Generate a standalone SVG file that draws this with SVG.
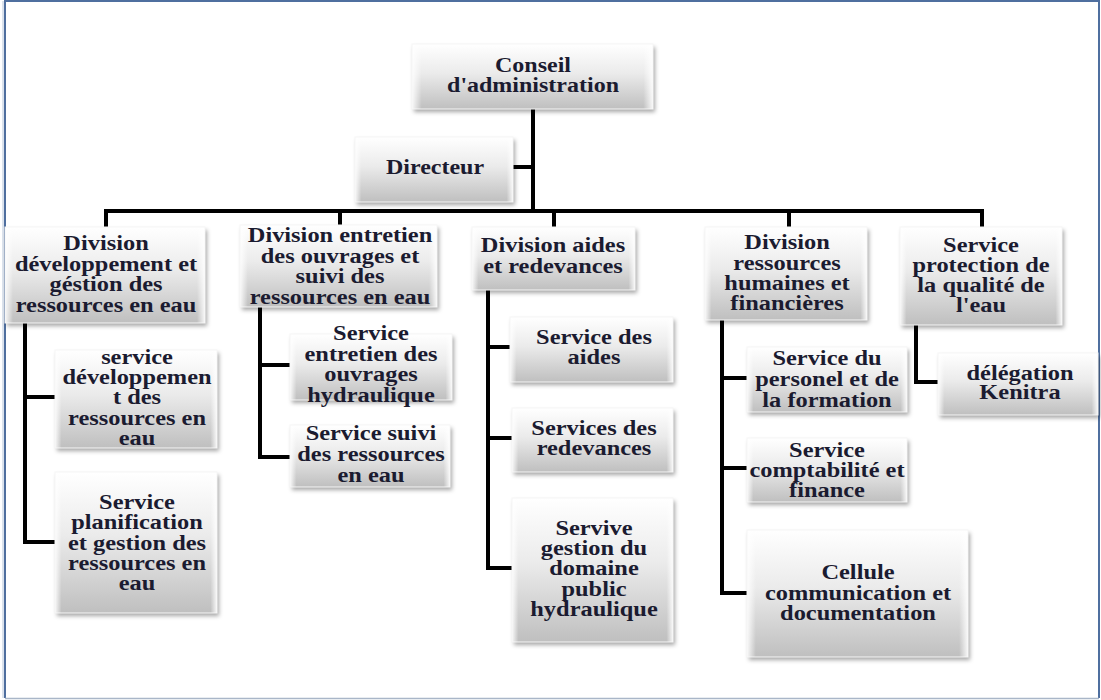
<svg xmlns="http://www.w3.org/2000/svg" width="1101" height="700" viewBox="0 0 1101 700">
<defs>
<linearGradient id="gv" x1="0" y1="0" x2="0" y2="1">
<stop offset="0" stop-color="#ffffff"/>
<stop offset="0.45" stop-color="#ebebeb"/>
<stop offset="1" stop-color="#bfbfbf"/>
</linearGradient>
<linearGradient id="gh" x1="0" y1="0" x2="1" y2="0">
<stop offset="0" stop-color="#ffffff" stop-opacity="0.9"/>
<stop offset="0.04" stop-color="#ffffff" stop-opacity="0"/>
<stop offset="0.96" stop-color="#ffffff" stop-opacity="0"/>
<stop offset="1" stop-color="#ffffff" stop-opacity="0.9"/>
</linearGradient>
<filter id="sh" x="-10%" y="-10%" width="125%" height="130%">
<feDropShadow dx="2" dy="3" stdDeviation="2" flood-color="#000" flood-opacity="0.35"/>
</filter>
<style>
.box{fill:url(#gv);filter:url(#sh);}
.bev{fill:url(#gh);stroke:#f6f6f6;stroke-width:1;}
.t{font-family:"Liberation Serif","Times New Roman",serif;font-weight:bold;font-size:20px;fill:#1b1b30;text-anchor:middle;}
.c{fill:none;stroke:#000;stroke-width:4;stroke-linejoin:miter;}
.frame{fill:none;stroke:#4f6f9f;stroke-width:2;}
</style>
</defs>
<rect x="0" y="0" width="1101" height="700" fill="#ffffff"/>
<path class="frame" d="M5,698 V1 H1099 V698"/>
<line x1="5" y1="698.5" x2="1099" y2="698.5" stroke="#a9b6c8" stroke-width="1.5"/>
<line x1="3" y1="1" x2="3" y2="698" stroke="#b8c6da" stroke-width="1"/>

<g id="connectors">
<path class="c" d="M533,108 V211"/>
<path class="c" d="M513,167 H533"/>
<path class="c" d="M106,227 V211 H982 V227"/>
<path class="c" d="M340,211 V225"/>
<path class="c" d="M554,211 V227"/>
<path class="c" d="M789,211 V227"/>
<path class="c" d="M25,323 V542 H55"/>
<path class="c" d="M25,397 H55"/>
<path class="c" d="M260,307 V457 H290"/>
<path class="c" d="M260,365 H290"/>
<path class="c" d="M488,290 V568 H512"/>
<path class="c" d="M488,347 H510"/>
<path class="c" d="M488,438 H512"/>
<path class="c" d="M722,320 V593 H747"/>
<path class="c" d="M722,378 H747"/>
<path class="c" d="M722,468 H747"/>
<path class="c" d="M916,325 V382 H938"/>
</g>

<g id="conseil">
<rect class="box" x="412" y="44" width="241" height="65"/><rect class="bev" x="412" y="44" width="241" height="65"/>
<g transform="translate(533,0) scale(1.2,1)"><text class="t"><tspan x="0" y="72">Conseil</tspan><tspan x="0" y="92">d'administration</tspan></text></g>
</g>
<g id="directeur">
<rect class="box" x="355" y="137" width="158" height="65"/><rect class="bev" x="355" y="137" width="158" height="65"/>
<g transform="translate(435,0) scale(1.2,1)"><text class="t"><tspan x="0" y="174">Directeur</tspan></text></g>
</g>
<g id="div1">
<rect class="box" x="5" y="227" width="200" height="96"/><rect class="bev" x="5" y="227" width="200" height="96"/>
<g transform="translate(106,0) scale(1.22,1)"><text class="t"><tspan x="0" y="250">Division</tspan><tspan x="0" y="271">développement et</tspan><tspan x="0" y="291">géstion des</tspan><tspan x="0" y="312">ressources en eau</tspan></text></g>
</g>
<g id="div2">
<rect class="box" x="240" y="225" width="197" height="82"/><rect class="bev" x="240" y="225" width="197" height="82"/>
<g transform="translate(340,0) scale(1.22,1)"><text class="t"><tspan x="0" y="242">Division entretien</tspan><tspan x="0" y="263">des ouvrages et</tspan><tspan x="0" y="283">suivi des</tspan><tspan x="0" y="304">ressources en eau</tspan></text></g>
</g>
<g id="div3">
<rect class="box" x="472" y="227" width="163" height="63"/><rect class="bev" x="472" y="227" width="163" height="63"/>
<g transform="translate(553,0) scale(1.22,1)"><text class="t"><tspan x="0" y="252">Division aides</tspan><tspan x="0" y="273">et redevances</tspan></text></g>
</g>
<g id="div4">
<rect class="box" x="705" y="227" width="162" height="93"/><rect class="bev" x="705" y="227" width="162" height="93"/>
<g transform="translate(787,0) scale(1.22,1)"><text class="t"><tspan x="0" y="249">Division</tspan><tspan x="0" y="270">ressources</tspan><tspan x="0" y="290">humaines et</tspan><tspan x="0" y="310">financières</tspan></text></g>
</g>
<g id="svc5">
<rect class="box" x="900" y="227" width="162" height="98"/><rect class="bev" x="900" y="227" width="162" height="98"/>
<g transform="translate(981,0) scale(1.22,1)"><text class="t"><tspan x="0" y="252">Service</tspan><tspan x="0" y="272">protection de</tspan><tspan x="0" y="292">la qualité de</tspan><tspan x="0" y="312">l'eau</tspan></text></g>
</g>
<g id="s11">
<rect class="box" x="55" y="350" width="162" height="98"/><rect class="bev" x="55" y="350" width="162" height="98"/>
<g transform="translate(137,0) scale(1.22,1)"><text class="t"><tspan x="0" y="364">service</tspan><tspan x="0" y="384">développemen</tspan><tspan x="0" y="404">t des</tspan><tspan x="0" y="425">ressources en</tspan><tspan x="0" y="445">eau</tspan></text></g>
</g>
<g id="s12">
<rect class="box" x="55" y="472" width="162" height="141"/><rect class="bev" x="55" y="472" width="162" height="141"/>
<g transform="translate(137,0) scale(1.22,1)"><text class="t"><tspan x="0" y="509">Service</tspan><tspan x="0" y="529">planification</tspan><tspan x="0" y="550">et gestion des</tspan><tspan x="0" y="570">ressources en</tspan><tspan x="0" y="590">eau</tspan></text></g>
</g>
<g id="s21">
<rect class="box" x="290" y="334" width="162" height="66"/><rect class="bev" x="290" y="334" width="162" height="66"/>
<g transform="translate(371,0) scale(1.22,1)"><text class="t"><tspan x="0" y="340">Service</tspan><tspan x="0" y="361">entretien des</tspan><tspan x="0" y="381">ouvrages</tspan><tspan x="0" y="402">hydraulique</tspan></text></g>
</g>
<g id="s22">
<rect class="box" x="290" y="425" width="160" height="62"/><rect class="bev" x="290" y="425" width="160" height="62"/>
<g transform="translate(371,0) scale(1.22,1)"><text class="t"><tspan x="0" y="440">Service suivi</tspan><tspan x="0" y="461">des ressources</tspan><tspan x="0" y="482">en eau</tspan></text></g>
</g>
<g id="s31">
<rect class="box" x="510" y="317" width="163" height="65"/><rect class="bev" x="510" y="317" width="163" height="65"/>
<g transform="translate(594,0) scale(1.22,1)"><text class="t"><tspan x="0" y="344">Service des</tspan><tspan x="0" y="364">aides</tspan></text></g>
</g>
<g id="s32">
<rect class="box" x="512" y="408" width="161" height="64"/><rect class="bev" x="512" y="408" width="161" height="64"/>
<g transform="translate(594,0) scale(1.22,1)"><text class="t"><tspan x="0" y="435">Services des</tspan><tspan x="0" y="455">redevances</tspan></text></g>
</g>
<g id="s33">
<rect class="box" x="512" y="498" width="161" height="144"/><rect class="bev" x="512" y="498" width="161" height="144"/>
<g transform="translate(594,0) scale(1.22,1)"><text class="t"><tspan x="0" y="535">Servive</tspan><tspan x="0" y="555">gestion du</tspan><tspan x="0" y="575">domaine</tspan><tspan x="0" y="596">public</tspan><tspan x="0" y="616">hydraulique</tspan></text></g>
</g>
<g id="s41">
<rect class="box" x="747" y="347" width="160" height="65"/><rect class="bev" x="747" y="347" width="160" height="65"/>
<g transform="translate(827,0) scale(1.22,1)"><text class="t"><tspan x="0" y="365">Service du</tspan><tspan x="0" y="386">personel et de</tspan><tspan x="0" y="407">la formation</tspan></text></g>
</g>
<g id="s42">
<rect class="box" x="747" y="438" width="160" height="64"/><rect class="bev" x="747" y="438" width="160" height="64"/>
<g transform="translate(827,0) scale(1.22,1)"><text class="t"><tspan x="0" y="457">Service</tspan><tspan x="0" y="477">comptabilité et</tspan><tspan x="0" y="497">finance</tspan></text></g>
</g>
<g id="s43">
<rect class="box" x="747" y="530" width="221" height="127"/><rect class="bev" x="747" y="530" width="221" height="127"/>
<g transform="translate(858,0) scale(1.22,1)"><text class="t"><tspan x="0" y="579">Cellule</tspan><tspan x="0" y="600">communication et</tspan><tspan x="0" y="620">documentation</tspan></text></g>
</g>
<g id="s51">
<rect class="box" x="938" y="353" width="160" height="62"/><rect class="bev" x="938" y="353" width="160" height="62"/>
<g transform="translate(1020,0) scale(1.22,1)"><text class="t"><tspan x="0" y="380">délégation</tspan><tspan x="0" y="399">Kenitra</tspan></text></g>
</g>
</svg>
